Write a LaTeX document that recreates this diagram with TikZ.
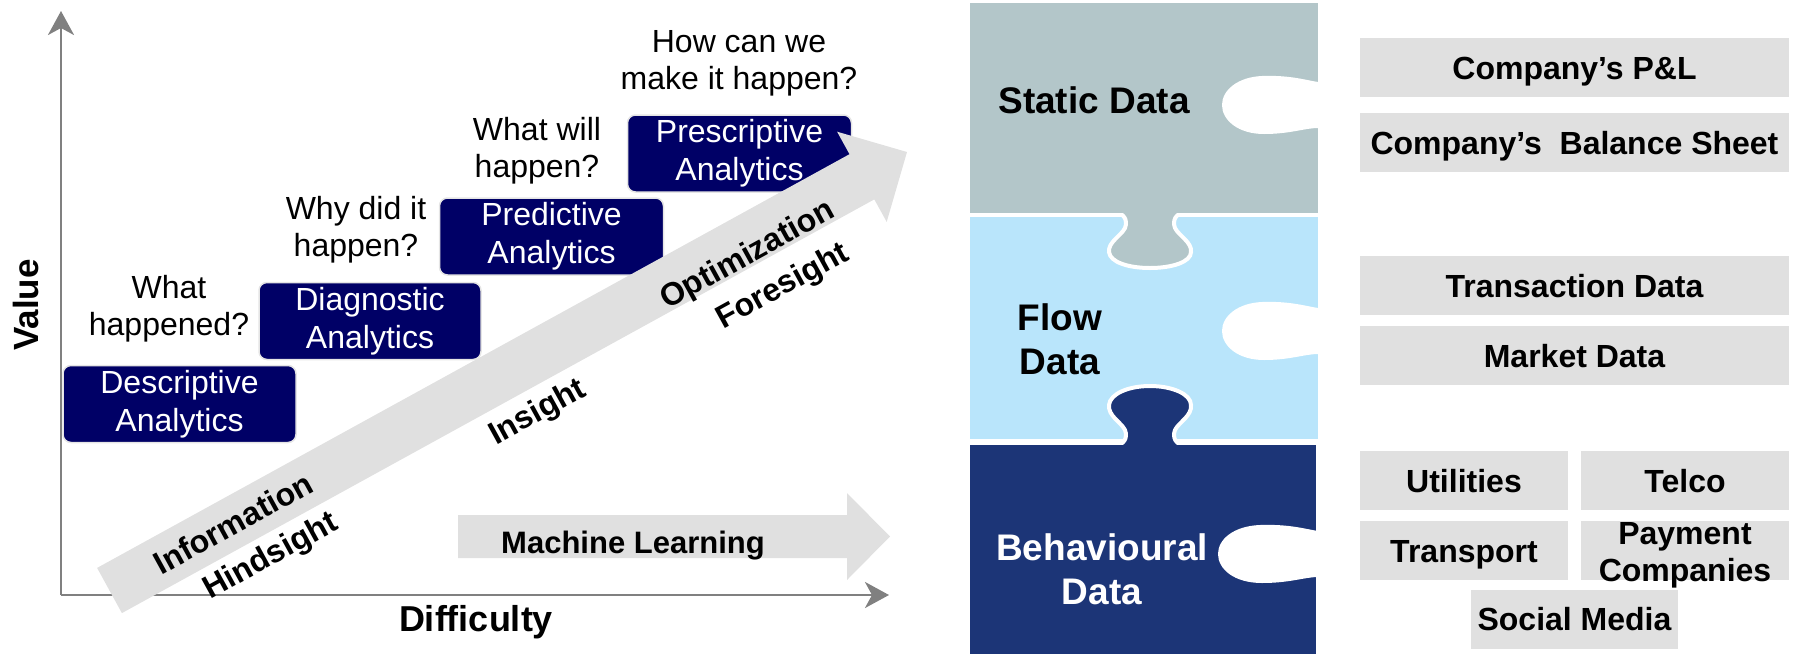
\documentclass[tikz,border=0pt]{standalone}
\usepackage{fontspec}
\setmainfont{Liberation Sans}
\usetikzlibrary{arrows.meta}

\definecolor{stagenavy}{HTML}{000066}
\definecolor{lightgrey}{HTML}{E0E0E0}
\definecolor{axisgrey}{HTML}{808080}
\definecolor{staticfill}{HTML}{B3C6C9}
\definecolor{flowfill}{HTML}{B9E5FB}
\definecolor{behavfill}{HTML}{1C3577}

\begin{document}
\begin{tikzpicture}[x=1pt, y=-1pt,
    axis/.style={draw=axisgrey, line width=2.5pt, -{Stealth[length=24pt, width=26pt, inset=7pt]}},
    question/.style={align=center, font=\fontsize{32}{37}\selectfont},
    stage/.style={rounded corners=8pt, fill=stagenavy, draw=black!10, line width=1.5pt, text=white, align=center,
        font=\fontsize{32}{38}\selectfont, minimum width=224pt, minimum height=77pt, inner sep=0pt},
    arrowtag/.style={font=\bfseries\fontsize{32}{37}\selectfont, rotate=28.8},
    piecetext/.style={font=\bfseries\fontsize{37}{44}\selectfont, align=center},
    seam/.style={draw=white, line width=4pt},
    srcbase/.style={fill=lightgrey, font=\bfseries\fontsize{32}{37}\selectfont, minimum height=59pt, inner sep=0pt},
    srcbox/.style={srcbase, text height=23pt, text depth=0pt}]
    \useasboundingbox (0,0) rectangle (1797,654);

    % axes
    \coordinate (origin) at (61,595);
    \coordinate (xend) at (889,595);
    \coordinate (yend) at (61,11);
    \draw[axis] (origin) -- (xend);
    \draw[axis] (origin) -- (yend);
    \node[font=\bfseries\fontsize{35}{40}\selectfont, rotate=90] (value) at (26,305) {Value};
    \node[font=\bfseries\fontsize{36}{40}\selectfont] (difficulty) at (476,622) {Difficulty};

    % machine learning arrow
    \fill[lightgrey] (458,515) -- (847,515) -- (847,493) -- (890,536.5) -- (847,580) -- (847,558) -- (458,558) -- cycle;
    \node[font=\bfseries\fontsize{31}{36}\selectfont, anchor=base] (ml) at (633,553) {Machine Learning};

    % analytics stages
    \node[stage, minimum width=233pt] (descriptive) at (179.5,404) {Descriptive\\Analytics};
    \node[stage, minimum width=222pt] (diagnostic) at (370,321) {Diagnostic\\Analytics};
    \node[stage] (predictive) at (551.5,236.5) {Predictive\\Analytics};
    \node[stage] (prescriptive) at (739.5,153.5) {Prescriptive\\Analytics};

    \node[question] (qwhat) at (169,309) {What\\happened?};
    \node[question] (qwhy) at (356,230) {Why did it\\happen?};
    \node[question] (qwill) at (537,151) {What will\\happen?};
    \node[question] (qhow) at (739,63) {How can we\\make it happen?};

    % diagonal arrow
    \fill[lightgrey] (97.1,567.9) -- (849.5,154.2) -- (837.1,131.7) -- (907,152) -- (886.7,221.9)
        -- (874.3,199.4) -- (121.9,613.1) -- cycle;

    \node[arrowtag] (information) at (233,523) {Information};
    \node[arrowtag] (hindsight) at (271,557) {Hindsight};
    \node[arrowtag] (insight) at (538,413) {Insight};
    \node[arrowtag] (optimization) at (748,256) {Optimization};
    \node[arrowtag] (foresight) at (783,287) {Foresight};

    % puzzle pieces
    \fill[flowfill] (970,217) rectangle (1318,439);
    \filldraw[fill=staticfill, seam] (1114,212) .. controls (1124,213) and (1128,220) .. (1125,228)
        .. controls (1121,236) and (1108,242) .. (1109,252)
        .. controls (1110,262) and (1128,268) .. (1150,268)
        .. controls (1172,268) and (1191,262) .. (1191,252)
        .. controls (1192,242) and (1179,236) .. (1175,228)
        .. controls (1172,220) and (1176,213) .. (1186,212) -- (1186,204) -- (1114,204) -- cycle;
    \filldraw[fill=behavfill, seam] (1114,446) .. controls (1124,445) and (1128,438) .. (1125,430)
        .. controls (1121,422) and (1108,416) .. (1109,405)
        .. controls (1110,394) and (1128,386) .. (1150,386)
        .. controls (1172,386) and (1191,394) .. (1191,405)
        .. controls (1192,416) and (1179,422) .. (1175,430)
        .. controls (1172,438) and (1176,445) .. (1186,446) -- (1186,454) -- (1114,454) -- cycle;
    \fill[staticfill] (970,3) rectangle (1318,213);
    \fill[behavfill] (970,445) rectangle (1316,654);

    \fill[white] (1325,82) -- (1318,82) .. controls (1305,80) and (1290,75) .. (1262,76)
        .. controls (1238,77) and (1222,90) .. (1222,105) .. controls (1222,120) and (1238,134) .. (1264,134)
        .. controls (1290,134) and (1305,128) .. (1318,128) -- (1325,128) -- cycle;
    \fill[white] (1325,308) -- (1318,308) .. controls (1305,306) and (1290,301) .. (1262,302)
        .. controls (1238,303) and (1222,316) .. (1222,331) .. controls (1222,346) and (1238,360) .. (1264,360)
        .. controls (1290,360) and (1305,354) .. (1318,354) -- (1325,354) -- cycle;
    \fill[white] (1325,531) -- (1318,531) .. controls (1305,529) and (1290,524) .. (1260,525)
        .. controls (1234,526) and (1218,539) .. (1218,554) .. controls (1218,569) and (1234,583) .. (1262,583)
        .. controls (1290,583) and (1305,577) .. (1318,577) -- (1325,577) -- cycle;

    \node[piecetext, anchor=base] (static) at (1094,113) {Static Data};
    \node[piecetext] (flow) at (1060,339) {Flow\\Data};
    \node[piecetext, text=white] (behavioural) at (1102,569) {Behavioural\\Data};

    % data sources
    \node[srcbox, minimum width=429pt] (pnl) at (1574.5,67.5) {Company’s P\&L};
    \node[srcbox, minimum width=429pt] (balance) at (1574.5,142.5) {Company’s\ \ Balance Sheet};
    \node[srcbox, minimum width=429pt] (transaction) at (1574.5,285.5) {Transaction Data};
    \node[srcbox, minimum width=429pt] (market) at (1574.5,355.5) {Market Data};
    \node[srcbox, minimum width=208pt] (utilities) at (1464,480.5) {Utilities};
    \node[srcbox, minimum width=208pt] (telco) at (1685,480.5) {Telco};
    \node[srcbox, minimum width=208pt] (transport) at (1464,550.5) {Transport};
    \node[srcbox, minimum width=208pt] (payment) at (1685,550.5) {};
    \node[srcbase, fill=none, align=center] (paymenttext) at (1685,555) {Payment\\Companies};
    \node[srcbox, minimum width=207pt] (social) at (1574.5,619) {Social Media};
\end{tikzpicture}
\end{document}
